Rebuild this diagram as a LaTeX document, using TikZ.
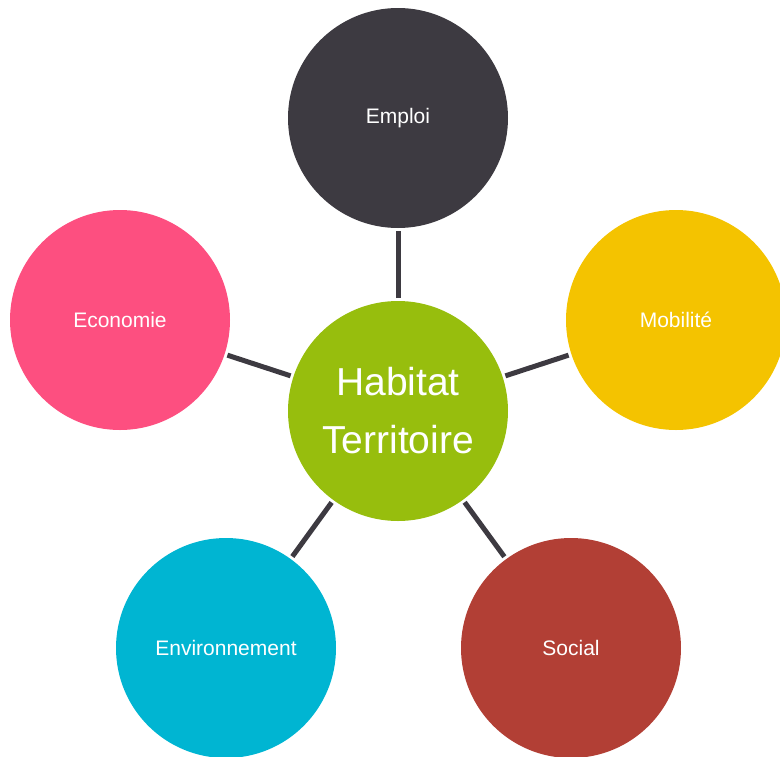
\documentclass[tikz,border=0pt]{standalone}
\usepackage{fontspec}
\setmainfont{Liberation Sans}
\definecolor{cdark}{HTML}{3D3A41}
\definecolor{cgreen}{HTML}{97BE0D}
\definecolor{cyellow}{HTML}{F4C300}
\definecolor{cpink}{HTML}{FD4F80}
\definecolor{ccyan}{HTML}{00B5D2}
\definecolor{cred}{HTML}{B23F35}
\begin{document}
\begin{tikzpicture}[x=1pt,y=-1pt,
  bubble/.style={circle,minimum size=220pt,inner sep=0pt,outer sep=0pt,draw=none,text=white,font=\fontsize{21}{25}\selectfont},
  hub/.style={bubble,align=center,font=\fontsize{39}{58}\selectfont},
  conn/.style={draw=cdark,line width=5pt,shorten <=3pt,shorten >=3pt}]
\useasboundingbox (0,0) rectangle (780,756);
\node[hub,fill=cgreen] (c) at (398,411) {Habitat\\Territoire};
\node[bubble,fill=cdark] (emploi) at (398,118) {Emploi};
\node[bubble,fill=cyellow] (mob) at (676,320) {Mobilité};
\node[bubble,fill=cpink] (eco) at (120,320) {Economie};
\node[bubble,fill=ccyan] (env) at (226,648) {Environnement};
\node[bubble,fill=cred] (soc) at (571,648) {Social};
\draw[conn] (c) -- (emploi);
\draw[conn] (c) -- (mob);
\draw[conn] (c) -- (eco);
\draw[conn] (c) -- (env);
\draw[conn] (c) -- (soc);
\end{tikzpicture}
\end{document}
